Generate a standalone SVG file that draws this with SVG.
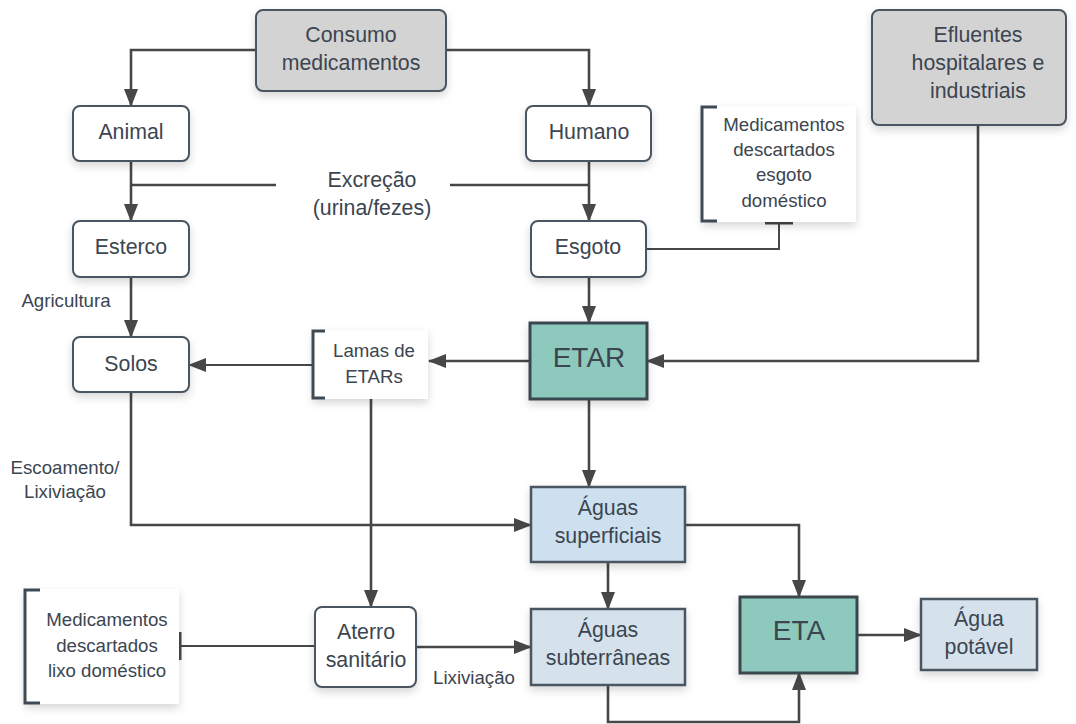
<svg xmlns="http://www.w3.org/2000/svg" width="1076" height="724" viewBox="0 0 1076 724">
<defs>
<filter id="sh" x="-20%" y="-20%" width="140%" height="150%">
<feDropShadow dx="0" dy="4" stdDeviation="4" flood-color="#000" flood-opacity="0.16"/>
</filter>
<marker id="ah" markerWidth="18" markerHeight="14" refX="17" refY="7" orient="auto" markerUnits="userSpaceOnUse">
<path d="M0,0 L18,7 L0,14 z" fill="#474747"/>
</marker>
<marker id="bar" markerWidth="4" markerHeight="28" refX="1.5" refY="14" orient="auto" markerUnits="userSpaceOnUse">
<rect x="0" y="0" width="3" height="28" fill="#474747"/>
</marker>
</defs>
<style>
text{font-family:"Liberation Sans",Arial,sans-serif;fill:#3c4550;text-anchor:middle}
.t{font-size:21.33px}
.s{font-size:18.67px}
.b{font-size:28px}
.box{fill:#fff;stroke:#4a5560;stroke-width:2;filter:url(#sh)}
.grey{fill:#d3d3d3;stroke:#4a5560;stroke-width:2;filter:url(#sh)}
.teal{fill:#8dcabd;stroke:#3a4650;stroke-width:3;filter:url(#sh)}
.blue{fill:#cce0ef;stroke:#4a5560;stroke-width:2.5;filter:url(#sh)}
.blue2{fill:#d5e2ec;stroke:#4a5560;stroke-width:2.5;filter:url(#sh)}
.note{fill:#fff;stroke:none;filter:url(#sh)}
.br{fill:none;stroke:#3f4a55;stroke-width:3}
.c{fill:none;stroke:#474747;stroke-width:2.6}
.c2{fill:none;stroke:#474747;stroke-width:2}
</style>
<g id="connectors">
<path class="c" d="M256,50 H131 V106" marker-end="url(#ah)"/>
<path class="c" d="M446,50 H589 V106" marker-end="url(#ah)"/>
<path class="c" d="M131,161 V221" marker-end="url(#ah)"/>
<path class="c" d="M131,185 H276"/>
<path class="c" d="M450,185 H589"/>
<path class="c" d="M589,161 V221" marker-end="url(#ah)"/>
<path class="c2" d="M646,249 H779 V223" marker-end="url(#bar)"/>
<path class="c" d="M131,277 V337" marker-end="url(#ah)"/>
<path class="c" d="M589,277 V323" marker-end="url(#ah)"/>
<path class="c" d="M978,125 V361 H647" marker-end="url(#ah)"/>
<path class="c" d="M530,361 H429" marker-end="url(#ah)"/>
<path class="c2" d="M313,365 H189" marker-end="url(#ah)"/>
<path class="c" d="M131,392 V525 H531" marker-end="url(#ah)"/>
<path class="c" d="M371,399 V607" marker-end="url(#ah)"/>
<path class="c" d="M589,399 V487" marker-end="url(#ah)"/>
<path class="c" d="M685,525 H799 V597" marker-end="url(#ah)"/>
<path class="c" d="M608,562 V609" marker-end="url(#ah)"/>
<path class="c" d="M416,647 H531" marker-end="url(#ah)"/>
<path class="c2" d="M315,646 H180" marker-end="url(#bar)"/>
<path class="c" d="M608,685 V722 H799 V673" marker-end="url(#ah)"/>
<path class="c" d="M857,635 H921" marker-end="url(#ah)"/>
</g>
<g id="lbl-excrecao">
<text class="t" x="372" y="186.5">Excreção</text>
<text class="t" x="372" y="214.5">(urina/fezes)</text>
</g>
<g id="lbl-agricultura"><text class="s" x="66" y="306.5">Agricultura</text></g>
<g id="lbl-escoamento">
<text class="s" x="65" y="473.5">Escoamento/</text>
<text class="s" x="65" y="497.5">Lixiviação</text>
</g>
<g id="lbl-lixiviacao"><text class="s" x="474" y="684">Lixiviação</text></g>
<g id="consumo">
<rect class="grey" x="256" y="10" width="190" height="81" rx="7"/>
<text class="t" x="351" y="41.5">Consumo</text>
<text class="t" x="351" y="69.5">medicamentos</text>
</g>
<g id="animal">
<rect class="box" x="73" y="106" width="116" height="55" rx="7"/>
<text class="t" x="131" y="138.5">Animal</text>
</g>
<g id="humano">
<rect class="box" x="526" y="106" width="125" height="55" rx="7"/>
<text class="t" x="589" y="138.5">Humano</text>
</g>
<g id="esterco">
<rect class="box" x="73" y="221" width="116" height="56" rx="7"/>
<text class="t" x="131" y="253.5">Esterco</text>
</g>
<g id="esgoto">
<rect class="box" x="531" y="221" width="115" height="56" rx="7"/>
<text class="t" x="588" y="254">Esgoto</text>
</g>
<g id="med-esgoto">
<rect class="note" x="702" y="106" width="154" height="116"/>
<path class="br" d="M717,107 H702 V221 H717"/>
<text class="s" x="784" y="131">Medicamentos</text>
<text class="s" x="784" y="156">descartados</text>
<text class="s" x="784" y="181">esgoto</text>
<text class="s" x="784" y="206.5">doméstico</text>
</g>
<g id="efluentes">
<rect class="grey" x="872" y="10" width="194" height="115" rx="7"/>
<text class="t" x="978" y="42">Efluentes</text>
<text class="t" x="978" y="70">hospitalares e</text>
<text class="t" x="978" y="97.5">industriais</text>
</g>
<g id="solos">
<rect class="box" x="73" y="337" width="116" height="55" rx="7"/>
<text class="t" x="131" y="370.5">Solos</text>
</g>
<g id="lamas">
<rect class="note" x="313" y="330" width="115" height="69"/>
<path class="br" d="M325,331 H313 V398 H325"/>
<text class="s" x="374" y="357">Lamas de</text>
<text class="s" x="374" y="382.5">ETARs</text>
</g>
<g id="etar">
<rect class="teal" x="530" y="323" width="117" height="76"/>
<text class="b" x="589" y="367">ETAR</text>
</g>
<g id="aguas-sup">
<rect class="blue" x="531" y="487" width="154" height="75"/>
<text class="t" x="608" y="515">Águas</text>
<text class="t" x="608" y="543">superficiais</text>
</g>
<g id="aguas-sub">
<rect class="blue2" x="531" y="609" width="154" height="76"/>
<text class="t" x="608" y="637">Águas</text>
<text class="t" x="608" y="665">subterrâneas</text>
</g>
<g id="aterro">
<rect class="box" x="315" y="607" width="101" height="80" rx="7"/>
<text class="t" x="366" y="639">Aterro</text>
<text class="t" x="366" y="666.5">sanitário</text>
</g>
<g id="med-lixo">
<rect class="note" x="25" y="589" width="154" height="115"/>
<path class="br" d="M40,590 H25 V703 H40"/>
<text class="s" x="107" y="626">Medicamentos</text>
<text class="s" x="107" y="651.5">descartados</text>
<text class="s" x="107" y="676.5">lixo doméstico</text>
</g>
<g id="eta">
<rect class="teal" x="740" y="597" width="117" height="76"/>
<text class="b" x="799" y="640">ETA</text>
</g>
<g id="agua-potavel">
<rect class="blue2" x="921" y="599" width="116" height="71"/>
<text class="t" x="979" y="625.5">Água</text>
<text class="t" x="979" y="654">potável</text>
</g>
</svg>
